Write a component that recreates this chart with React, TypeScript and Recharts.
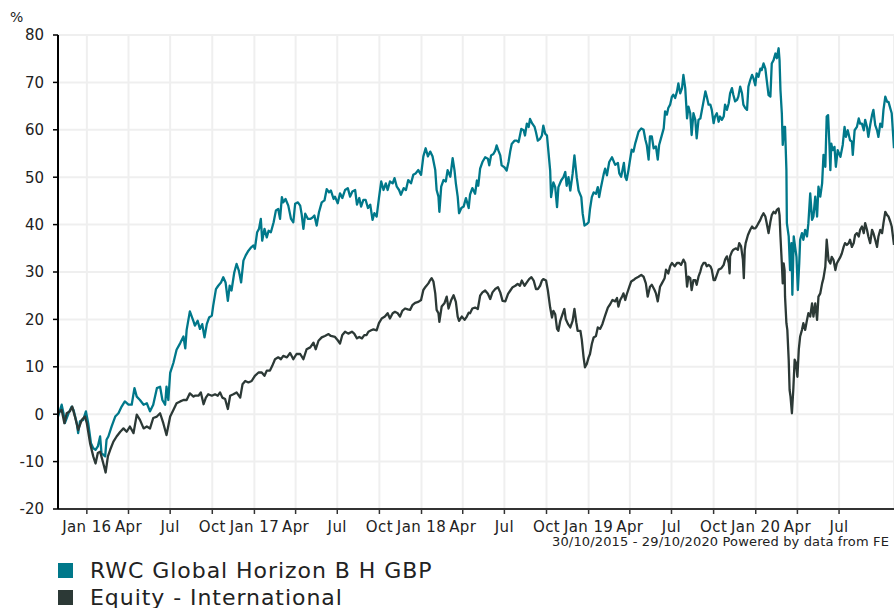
import React from "react";
import { LineChart, Line, XAxis, YAxis, CartesianGrid } from "recharts";

// x = days since 30/10/2015, y = cumulative % return
const fundSeries: [number, number][] = [
  [0,-0.5],[8,2.0],[12,0.2],[15,-1.9],[23,0.2],[30,1.6],[34,0.9],[41,-1.9],[44,-4.0],[48,-1.5],[55,-1.2],[61,0.6],[66,-1.9],[72,-6.1],[77,-7.2],[82,-7.5],[87,-6.8],[92,-4.7],[95,-8.2],[103,-8.9],[106,-5.4],[110,-4.7],[117,-2.6],[125,-0.5],[132,0.2],[139,1.6],[146,2.7],[154,2.0],[161,2.0],[167,5.5],[172,3.7],[179,3.0],[187,2.0],[194,2.3],[201,0.6],[208,2.0],[216,5.5],[223,5.8],[228,3.0],[234,2.0],[237,5.8],[241,3.0],[245,8.7],[252,10.8],[259,13.6],[267,15.0],[274,16.4],[278,13.9],[281,17.8],[288,21.7],[296,19.6],
  [299,18.7],[305,19.7],[310,18.0],[315,19.0],[320,16.2],[325,19.0],[330,20.4],[336,20.8],[339,22.9],[345,26.4],[350,27.1],[356,27.8],[361,28.9],[366,27.8],[371,23.9],[375,27.1],[379,26.1],[385,29.9],[390,31.7],[395,30.3],[400,27.8],[405,32.4],[410,33.5],[416,34.5],[422,35.2],[427,35.6],[430,34.9],[435,38.4],[439,39.1],[443,41.2],[446,36.6],[451,39.1],[456,37.3],[460,38.7],[465,38.4],[471,40.5],[476,43.0],[481,43.3],[485,41.2],[489,45.8],[492,44.7],[497,45.4],[503,44.0],[509,41.2],[514,40.5],[518,44.4],[524,44.7],[529,44.0],[532,42.3],[536,39.1],[540,42.3],[546,41.2],[551,41.2],[556,41.5],[560,41.9],[565,39.8],[570,42.6],[576,44.7],[582,45.1],[587,47.5],[592,46.8],[596,47.2],[602,45.4],
  [605,45.9],[611,44.5],[616,46.6],[621,45.6],[627,47.3],[633,47.7],[638,45.9],[643,47.0],[649,47.3],[653,44.2],[658,45.6],[662,43.8],[667,45.2],[672,45.2],[677,43.5],[682,44.2],[687,41.0],[691,42.4],[696,41.7],[701,45.6],[706,49.1],[711,47.3],[716,48.7],[720,47.3],[725,49.1],[731,48.7],[735,49.8],[740,48.0],[745,47.3],[749,46.3],[755,47.7],[760,47.3],[765,49.4],[771,48.7],[776,50.5],[781,50.8],[787,51.5],[793,50.5],[798,54.4],[803,56.1],[808,54.4],[813,55.4],[818,54.4],[824,51.5],[827,47.3],[831,45.9],[833,42.7],[837,48.0],[842,49.4],[847,49.1],[851,51.5],[857,50.1],[862,54.0],[866,51.5],[869,48.7],[873,45.9],[876,42.4],[881,43.5],[886,43.8],[891,45.6],[897,43.5],[900,46.3],[905,47.7],
  [911,46.5],[915,49.3],[918,48.2],[922,51.8],[927,53.2],[933,54.2],[939,53.9],[942,52.5],[946,54.6],[951,54.9],[955,55.6],[958,56.7],[962,55.6],[966,54.6],[969,52.5],[975,52.1],[980,51.4],[984,53.2],[988,55.6],[991,57.0],[997,57.7],[1002,57.7],[1006,57.4],[1012,60.2],[1017,59.9],[1020,58.8],[1024,61.3],[1028,60.6],[1031,62.3],[1036,61.3],[1041,60.6],[1044,59.5],[1048,57.7],[1053,58.1],[1057,58.8],[1060,60.9],[1064,59.2],[1068,58.8],[1071,55.6],[1075,51.4],[1077,45.8],[1082,48.9],[1086,47.9],[1090,43.7],[1093,47.9],[1099,49.3],[1104,50.0],[1108,51.1],[1111,48.2],[1115,50.0],[1119,47.2],[1124,50.7],[1128,54.6],[1133,50.0],[1137,47.2],[1143,45.8],[1146,42.3],[1150,39.8],[1155,40.1],[1159,40.5],[1162,43.3],[1166,45.8],[1170,46.8],[1175,46.5],[1179,47.9],[1182,45.8],[1186,47.9],[1192,50.7],[1195,51.8],[1199,50.4],[1204,53.2],[1210,54.2],
  [1217,52.6],[1223,53.0],[1226,50.8],[1230,50.1],[1233,51.5],[1236,53.0],[1239,50.1],[1242,49.4],[1246,51.5],[1250,54.0],[1253,55.8],[1257,55.4],[1261,57.2],[1264,58.2],[1268,59.6],[1274,60.3],[1279,60.0],[1283,57.9],[1286,56.8],[1290,53.7],[1293,58.6],[1297,58.6],[1301,56.1],[1306,56.5],[1310,53.7],[1313,56.8],[1317,58.2],[1323,60.3],[1326,63.9],[1330,63.2],[1333,64.6],[1337,65.3],[1341,67.0],[1344,67.4],[1348,66.7],[1352,68.1],[1355,69.8],[1359,67.7],[1363,68.8],[1366,71.6],[1370,68.8],[1374,62.4],[1377,64.9],[1381,63.5],[1384,58.9],[1388,63.5],[1392,62.1],[1395,58.2],[1399,62.1],[1403,62.4],[1406,63.9],[1410,66.0],[1414,68.1],[1417,67.0],[1421,65.3],[1425,65.3],[1428,64.2],[1432,61.4],[1435,62.8],[1439,63.5],[1443,61.7],[1446,62.8],[1450,62.1],[1454,62.8],[1457,65.3],[1461,64.2],[1465,65.6],[1468,67.7],[1472,68.8],[1475,67.4],[1479,66.0],[1483,66.3],[1486,67.0],[1490,69.1],[1494,67.7],[1497,65.3],[1501,64.6],[1505,64.2],[1508,69.1],[1512,70.5],[1516,71.6],[1519,70.9],
  [1523,69.4],[1526,71.9],[1530,71.2],[1534,72.9],[1537,72.6],[1541,74.0],[1545,72.9],[1548,70.5],[1552,67.3],[1556,67.0],[1559,74.0],[1563,74.7],[1567,76.1],[1570,75.1],[1574,77.2],[1576,74.7],[1578,68.4],[1581,63.5],[1583,56.8],[1586,60.6],[1588,60.6],[1591,51.5],[1592,40.3],[1596,37.5],[1599,30.4],[1602,36.1],[1604,25.2],[1607,37.5],[1610,35.3],[1613,33.2],[1616,26.2],[1619,31.8],[1621,36.8],[1625,38.2],[1628,36.8],[1632,38.9],[1636,37.5],[1639,40.3],[1643,46.6],[1647,41.0],[1650,41.7],[1654,45.9],[1658,41.7],[1661,48.0],[1665,45.9],[1669,48.7],[1672,54.7],[1676,52.2],[1679,62.8],[1682,63.1],[1685,56.8],[1687,51.5],[1689,57.1],[1692,55.7],[1696,56.4],[1699,52.2],[1703,55.7],[1709,54.3],[1714,56.8],[1718,60.6],[1721,58.5],[1725,59.9],[1730,57.8],[1734,57.5],[1736,54.7],[1740,59.9],[1745,60.6],[1749,62.4],[1752,61.3],[1756,61.3],[1760,59.9],[1763,62.1],[1767,60.6],[1770,58.5],[1774,61.0],[1778,63.1],[1781,64.2],[1785,61.0],[1789,59.9],[1792,58.5],[1796,61.3],[1800,60.6],[1803,64.2],[1807,67.0],[1811,65.9],[1814,65.9],[1818,64.5],[1821,63.5],[1826,56.1],
];

const sectorSeries: [number, number][] = [
  [0,0.2],[8,0.9],[14,-1.9],[19,0.2],[26,0.6],[31,1.6],[37,-0.5],[44,-3.3],[52,-1.2],[59,-0.5],[63,-1.9],[70,-6.1],[77,-8.9],[82,-10.4],[87,-8.2],[92,-7.9],[99,-10.4],[104,-12.3],[109,-8.9],[114,-7.5],[121,-5.8],[128,-4.7],[136,-3.7],[143,-3.0],[150,-3.7],[157,-2.6],[165,-4.0],[172,-0.1],[179,-1.2],[187,-3.0],[194,-2.6],[201,-3.0],[208,-0.8],[216,-0.5],[223,0.2],[230,-1.9],[237,-4.4],[245,-0.5],[252,0.9],[259,2.3],[267,2.7],[274,3.0],[281,3.0],[288,4.4],[296,3.7],
  [299,3.9],[307,3.9],[312,4.6],[318,2.1],[323,3.5],[328,4.2],[336,3.9],[343,4.2],[349,3.9],[354,4.6],[359,3.5],[365,3.2],[371,1.1],[376,3.9],[383,4.2],[390,4.6],[398,3.5],[403,6.3],[409,7.0],[416,6.7],[423,7.0],[430,8.1],[438,8.8],[445,8.8],[451,8.1],[456,9.2],[463,9.2],[468,10.2],[474,11.6],[481,12.0],[487,11.6],[492,12.3],[500,12.0],[507,12.9],[514,11.6],[521,12.7],[529,12.7],[536,11.6],[543,13.7],[551,14.1],[558,15.1],[563,13.7],[569,15.5],[576,16.2],[583,16.5],[591,16.9],[596,16.5],
  [605,16.3],[611,15.6],[616,14.9],[621,16.7],[627,17.4],[634,17.0],[642,17.4],[647,17.0],[653,16.0],[658,16.3],[664,16.0],[669,16.7],[674,16.7],[678,17.4],[684,17.7],[689,17.9],[696,17.7],[701,19.2],[707,20.2],[714,20.6],[720,21.3],[725,20.2],[731,21.3],[736,21.6],[742,21.3],[747,20.6],[752,21.8],[758,22.3],[764,22.1],[769,22.0],[774,23.0],[780,23.5],[787,23.7],[793,24.1],[798,26.2],[803,26.9],[809,27.6],[813,28.3],[816,28.7],[820,28.0],[824,25.5],[827,22.0],[831,21.3],[833,19.5],[838,22.7],[844,23.4],[849,24.8],[853,22.3],[859,24.1],[864,25.1],[869,23.7],[873,20.6],[876,19.7],[882,20.6],[888,19.9],[893,20.6],[897,21.4],[900,21.3],[905,22.3],
  [911,22.5],[917,22.2],[922,25.0],[927,25.7],[933,26.1],[939,25.4],[944,24.3],[949,25.7],[955,26.4],[961,26.8],[966,25.7],[971,23.9],[977,23.8],[983,25.4],[988,26.1],[993,26.8],[999,27.1],[1004,27.5],[1009,27.1],[1013,28.2],[1019,27.1],[1024,27.8],[1029,28.5],[1034,28.9],[1039,28.2],[1044,26.4],[1048,26.4],[1053,27.1],[1057,28.2],[1060,28.5],[1066,28.2],[1070,26.1],[1075,22.5],[1079,20.4],[1082,21.8],[1086,21.1],[1090,18.0],[1093,17.6],[1097,19.7],[1102,21.1],[1106,22.2],[1109,20.1],[1114,19.0],[1119,18.3],[1124,19.7],[1128,22.2],[1132,19.4],[1135,17.6],[1141,17.6],[1144,15.8],[1148,12.0],[1151,9.9],[1155,10.6],[1159,12.0],[1162,12.7],[1166,14.8],[1170,16.2],[1175,16.5],[1179,18.3],[1184,18.0],[1189,19.0],[1195,20.8],[1201,22.5],[1206,23.2],[1211,24.1],
  [1217,23.8],[1221,24.5],[1224,22.7],[1228,24.1],[1232,24.8],[1235,25.5],[1239,24.1],[1242,25.2],[1248,26.9],[1252,28.0],[1257,28.3],[1262,28.7],[1268,29.0],[1274,29.4],[1279,29.0],[1284,27.6],[1288,24.8],[1293,26.9],[1297,27.3],[1303,26.2],[1306,25.5],[1310,23.8],[1315,26.9],[1319,27.6],[1325,28.7],[1328,30.5],[1333,29.7],[1337,31.2],[1341,31.9],[1347,31.2],[1352,31.9],[1357,31.9],[1361,31.5],[1366,32.6],[1370,31.9],[1374,26.9],[1377,29.0],[1381,28.7],[1384,26.2],[1388,28.3],[1392,28.3],[1395,27.3],[1399,29.0],[1403,30.1],[1406,31.2],[1410,31.9],[1414,31.9],[1417,31.2],[1421,31.5],[1425,31.2],[1428,30.5],[1432,28.3],[1435,28.3],[1439,29.4],[1443,30.5],[1449,30.8],[1454,31.5],[1457,32.6],[1461,33.3],[1465,31.9],[1467,29.7],[1468,33.3],[1472,34.3],[1475,34.7],[1481,35.0],[1485,34.7],[1488,36.1],[1492,35.4],[1496,32.6],[1498,28.7],[1500,34.7],[1502,36.1],[1507,37.8],[1512,38.9],[1516,39.6],[1519,39.2],
  [1523,39.2],[1526,39.6],[1530,40.3],[1534,41.0],[1537,41.7],[1541,42.4],[1545,41.7],[1548,40.3],[1552,38.2],[1556,40.6],[1559,42.0],[1563,42.7],[1567,42.4],[1570,43.1],[1574,43.4],[1576,42.0],[1578,37.5],[1581,31.8],[1583,27.6],[1585,31.8],[1587,30.4],[1588,24.8],[1591,19.2],[1593,17.8],[1596,11.5],[1598,5.1],[1600,3.7],[1603,0.2],[1606,5.1],[1609,11.5],[1612,10.8],[1615,7.9],[1618,13.6],[1621,16.4],[1625,17.8],[1628,19.2],[1632,17.8],[1636,19.9],[1639,21.3],[1643,20.6],[1647,23.4],[1650,20.6],[1654,23.4],[1658,19.9],[1661,24.8],[1665,25.5],[1669,27.6],[1672,28.7],[1676,31.1],[1679,36.8],[1683,32.5],[1687,31.8],[1690,33.2],[1694,32.5],[1698,30.4],[1701,31.8],[1705,32.5],[1709,33.2],[1712,33.9],[1716,35.3],[1719,36.1],[1723,35.7],[1727,36.1],[1730,36.8],[1734,35.3],[1738,36.1],[1741,37.8],[1745,38.2],[1749,37.5],[1752,38.9],[1756,39.6],[1760,38.2],[1763,40.3],[1767,38.9],[1770,37.5],[1774,36.1],[1778,38.9],[1781,38.2],[1785,36.8],[1789,35.3],[1792,37.5],[1796,38.9],[1800,38.2],[1803,40.3],[1807,42.7],[1811,42.0],[1814,41.7],[1818,40.6],[1821,39.6],[1826,35.7],
];

const tickDays = [63, 154, 245, 337, 429, 519, 610, 702, 794, 884, 975, 1067, 1159, 1249, 1340, 1432, 1524, 1615, 1706];
const tickLabels = ["Jan 16", "Apr", "Jul", "Oct", "Jan 17", "Apr", "Jul", "Oct", "Jan 18", "Apr", "Jul", "Oct", "Jan 19", "Apr", "Jul", "Oct", "Jan 20", "Apr", "Jul"];
const yTicks = [-20, -10, 0, 10, 20, 30, 40, 50, 60, 70, 80];
const totalDays = 1826;

const seriesNames = ["RWC Global Horizon B H GBP", "Equity - International"];
const seriesColors = ["#00788a", "#2c3936"];
const footerText = "30/10/2015 - 29/10/2020 Powered by data from FE";

const FONT = "'DejaVu Sans', Verdana, sans-serif";

const fundData = fundSeries.map(([day, value]) => ({ day, value }));
const sectorData = sectorSeries.map(([day, value]) => ({ day, value }));

const labelFor = (d: number) => {
  const i = tickDays.indexOf(d);
  return i >= 0 ? tickLabels[i] : "";
};

export default function App() {
  return (
    <div style={{ position: "absolute", left: 0, top: 0, width: 894, height: 608, background: "#fff", fontFamily: FONT }}>
      <div style={{ position: "absolute", left: 10, top: 9, fontSize: 14, color: "#222" }}>%</div>
      <LineChart width={894} height={540} margin={{ top: 35, right: 0, bottom: 0, left: 0 }}>
        <CartesianGrid stroke="#efefef" strokeWidth={2} />
        <XAxis
          type="number"
          dataKey="day"
          domain={[0, totalDays]}
          ticks={tickDays}
          tickFormatter={labelFor}
          interval={0}
          height={31}
          axisLine={{ stroke: "#333", strokeWidth: 2 }}
          tickLine={{ stroke: "#333", strokeWidth: 1.5 }}
          tickSize={5}
          tickMargin={7}
          tick={{ fill: "#222", fontSize: 15, fontFamily: FONT, letterSpacing: 0.4 }}
          allowDataOverflow
        />
        <YAxis
          type="number"
          domain={[-20, 80]}
          ticks={yTicks}
          interval={0}
          width={58}
          axisLine={{ stroke: "#000", strokeWidth: 2 }}
          tickLine={{ stroke: "#000", strokeWidth: 1.5 }}
          tickSize={5}
          tickMargin={9}
          tick={{ fill: "#222", fontSize: 15, fontFamily: FONT }}
          allowDataOverflow
        />
        <Line data={fundData} dataKey="value" type="linear" stroke={seriesColors[0]} strokeWidth={2.3} dot={false} activeDot={false} isAnimationActive={false} strokeLinejoin="round" />
        <Line data={sectorData} dataKey="value" type="linear" stroke={seriesColors[1]} strokeWidth={2.3} dot={false} activeDot={false} isAnimationActive={false} strokeLinejoin="round" />
      </LineChart>
      <div style={{ position: "absolute", right: 5, top: 534, fontSize: 13, color: "#222", whiteSpace: "nowrap", letterSpacing: 0.15 }}>{footerText}</div>
      {seriesNames.map((name, i) => (
        <div key={name} style={{ position: "absolute", left: 58, top: 558 + i * 27, height: 24, display: "flex", alignItems: "center", whiteSpace: "nowrap" }}>
          <div style={{ width: 15, height: 15, background: seriesColors[i], marginRight: 17 }} />
          <span style={{ fontSize: 22, color: "#222", letterSpacing: 0.95 }}>{name}</span>
        </div>
      ))}
    </div>
  );
}
